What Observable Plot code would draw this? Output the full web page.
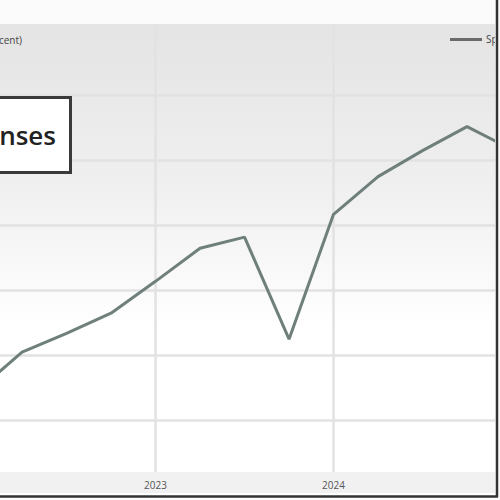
<!DOCTYPE html>
<html>
<head>
<meta charset="utf-8">
<script src="https://cdn.jsdelivr.net/npm/d3@7"></script>
<script src="https://cdn.jsdelivr.net/npm/@observablehq/plot@0.6"></script>
<style>
  html, body { margin: 0; padding: 0; background: #fff; }
  #wrap { position: relative; width: 500px; height: 500px; overflow: hidden; background: #fbfbfb; font-family: "Open Sans", sans-serif; }
  #wrap svg { position: absolute; left: 0; top: 0; }
  .subtitle { position: absolute; right: 478px; top: 33px; font-size: 10px; color: #444; white-space: nowrap; }
  .legend { position: absolute; left: 450px; top: 32px; width: 45px; overflow: hidden; font-size: 10px; color: #444; white-space: nowrap; display: flex; align-items: center; }
  .legend .sw { display: inline-block; flex: none; width: 32px; height: 3px; background: #6a6a6a; margin-right: 4px; }
  .titlebox { position: absolute; right: 428px; top: 96px; height: 78px; box-sizing: border-box; border: 3px solid #3a3a3a; background: #fff;
              padding: 0 13px 0 40px; display: flex; align-items: center; font-size: 26px; font-weight: 600; color: #222; white-space: nowrap; }
</style>
</head>
<body>
<div id="wrap">
  <div class="subtitle">(Percent)</div>
  <div class="legend"><span class="sw"></span>Spending</div>
  <div class="titlebox">Expenses</div>
</div>
<script>
const quarters = [2022.0, 2022.25, 2022.5, 2022.75, 2023.0, 2023.25, 2023.5, 2023.75, 2024.0, 2024.25, 2024.5, 2024.75, 2025.0];
const expenses = [0.46, 1.05, 1.34, 1.65, 2.14, 2.65, 2.82, 1.25, 3.17, 3.75, 4.15, 4.52, 4.17];
const yTicks = [0, 1, 2, 3, 4, 5];
const xTicks = [2023, 2024];
const xTickLabels = ["2023", "2024"];
const xDomain = [2022.129, 2024.910];
const yDomain = [-0.8, 6.09];

const data = quarters.map((q, i) => ({q, v: expenses[i]}));

const W = 500, H = 500, mt = 24, mb = 28, ml = 0, mr = 5;

const chart = Plot.plot({
  width: W, height: H,
  marginTop: mt, marginBottom: mb, marginLeft: ml, marginRight: mr,
  style: {background: "transparent", fontFamily: "'Open Sans', sans-serif", overflow: "visible"},
  x: {domain: xDomain, label: null},
  y: {domain: yDomain, label: null, axis: null},
  marks: [
    Plot.gridY(yTicks, {stroke: "#e2e2e2", strokeOpacity: 1, strokeWidth: 2.5}),
    Plot.gridX(xTicks, {stroke: "#e2e2e2", strokeOpacity: 1, strokeWidth: 2.5}),
    Plot.axisX(xTicks, {tickSize: 0, tickPadding: 9, fontSize: 10, fill: "#555", label: null,
                        tickFormat: d => xTickLabels[xTicks.indexOf(d)]}),
    Plot.line(data, {x: "q", y: "v", stroke: "#6e7f7c", strokeWidth: 3, clip: true, strokeLinejoin: "miter"})
  ]
});

// background decoration: gradient plot area, axis band and frame borders
const svg = d3.select(chart);
const defs = svg.insert("defs", ":first-child");
const grad = defs.append("linearGradient").attr("id", "bgGrad").attr("x1", 0).attr("y1", 0).attr("x2", 0).attr("y2", 1);
grad.append("stop").attr("offset", "0%").attr("stop-color", "#e4e4e4");
grad.append("stop").attr("offset", "35%").attr("stop-color", "#efefef");
grad.append("stop").attr("offset", "68%").attr("stop-color", "#ffffff");
grad.append("stop").attr("offset", "100%").attr("stop-color", "#ffffff");
const bg = svg.insert("g", "defs + *");
bg.append("rect").attr("x", 0).attr("y", 0).attr("width", W).attr("height", H).attr("fill", "#fbfbfb");
bg.append("rect").attr("x", ml).attr("y", mt).attr("width", W - ml - mr).attr("height", H - mt - mb).attr("fill", "url(#bgGrad)");
bg.append("rect").attr("x", ml).attr("y", H - mb).attr("width", W - ml - mr).attr("height", 21).attr("fill", "#f1f1f1");
bg.append("rect").attr("x", ml).attr("y", H - mb + 21).attr("width", W - ml - mr).attr("height", 3).attr("fill", "#ffffff");
const fr = svg.append("g");
fr.append("line").attr("x1", W - mr + 2).attr("x2", W - mr + 2).attr("y1", 0).attr("y2", H - 3).attr("stroke", "#333").attr("stroke-width", 2.5);
fr.append("line").attr("x1", 0).attr("x2", W - mr + 3).attr("y1", H - 3.5).attr("y2", H - 3.5).attr("stroke", "#333").attr("stroke-width", 2.5);

const wrap = document.getElementById("wrap");
wrap.insertBefore(chart, wrap.firstChild);
</script>
</body>
</html>
